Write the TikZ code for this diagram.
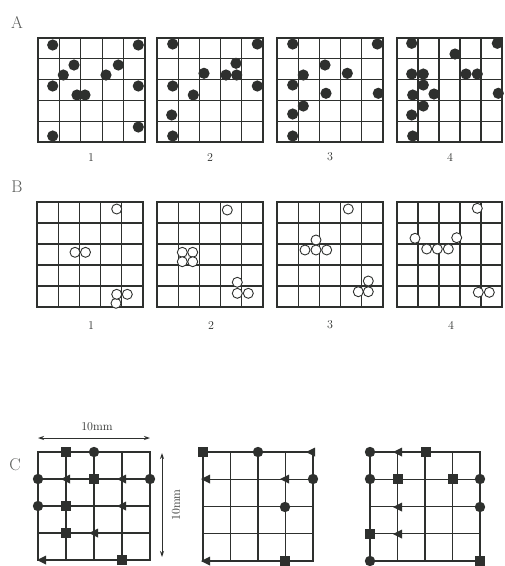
\documentclass[tikz,border=0pt]{standalone}
\usetikzlibrary{arrows.meta}
\definecolor{ink}{HTML}{2E302E}
\tikzset{
  gline/.style={draw=ink, line width=1.3pt},
  frame/.style={draw=ink, line width=1.8pt},
  dotA/.style={fill=ink},
  ringB/.style={draw=ink, line width=0.9pt, fill=white},
  mk/.style={fill=ink},
  lbl/.style={font=\fontsize{12}{12}\selectfont, text=ink, inner sep=0pt},
  sec/.style={font=\fontsize{17}{17}\selectfont, text=ink!80, inner sep=0pt},
  dim/.style={draw=ink, line width=0.9pt, {Stealth[length=6pt,width=4pt]}-{Stealth[length=6pt,width=4pt]}},
}
% grid: #1=x0 #2=y0 #3=w #4=h #5=number of cells
\newcommand{\mygrid}[5]{%
  \foreach \k in {1,...,\numexpr#5-1\relax}{%
    \draw[gline] ({#1+\k*#3/#5},#2) -- ({#1+\k*#3/#5},{#2+#4});
    \draw[gline] (#1,{#2+\k*#4/#5}) -- ({#1+#3},{#2+\k*#4/#5});
  }
  \draw[frame] (#1,#2) rectangle ({#1+#3},{#2+#4});
}
\newcommand{\dA}[2]{\fill[dotA] (#1,#2) circle (5.6);}
\newcommand{\rB}[2]{\draw[ringB] (#1,#2) circle (5);}
\newcommand{\mcirc}[2]{\fill[mk] (#1,#2) circle (5.2);}
\newcommand{\msq}[2]{\fill[mk] ({#1-4.6},{#2-4.6}) rectangle ({#1+4.6},{#2+4.6});}
\newcommand{\mtri}[2]{\fill[mk] ({#1-5},#2) -- ({#1+4},{#2-4.5}) -- ({#1+4},{#2+4.5}) -- cycle;}
\begin{document}
\begin{tikzpicture}[x=1pt,y=-1pt]
\useasboundingbox (0,0) rectangle (505,566);
\fill[white] (0,0) rectangle (505,566);

% ---------------- Section A ----------------
\node[sec] (secA) at (17,22) {A};
\mygrid{38}{38}{107}{104}{5}
\mygrid{157}{38}{106}{104}{5}
\mygrid{277}{38}{106}{104}{5}
\mygrid{397}{38}{105}{104}{5}
% A1
\dA{52.7}{45}\dA{138.3}{45}\dA{74}{65}\dA{63.3}{75}\dA{118.3}{65}\dA{106}{75}
\dA{52.7}{86}\dA{138.3}{86}\dA{77}{95}\dA{85}{95}\dA{138.3}{127}\dA{52.7}{136}
% A2
\dA{172.7}{44}\dA{257.3}{44}\dA{236}{63.3}\dA{204}{73.3}\dA{226}{75}\dA{236.7}{75}
\dA{172.7}{86}\dA{257.3}{86}\dA{193.3}{95}\dA{171.7}{115}\dA{172.7}{136}
% A3
\dA{292.7}{44}\dA{377.3}{44}\dA{325}{65}\dA{303.3}{75}\dA{347.3}{73.3}\dA{292.7}{85}
\dA{326}{93.3}\dA{378.3}{93.3}\dA{303.3}{106}\dA{292.7}{114}\dA{292.7}{136}
% A4
\dA{411.7}{43.3}\dA{497.3}{43.3}\dA{455}{54}\dA{411.7}{74}\dA{423.3}{74}\dA{466}{74}
\dA{477.3}{74}\dA{423.3}{85}\dA{412.7}{95}\dA{434}{94}\dA{498.3}{93.3}\dA{423.3}{106}
\dA{411.7}{115}\dA{412.7}{136}
\node[lbl] (a1) at (91,158) {1};
\node[lbl] (a2) at (210,158) {2};
\node[lbl] (a3) at (330,157) {3};
\node[lbl] (a4) at (450,157) {4};

% ---------------- Section B ----------------
\node[sec] (secB) at (17,187) {B};
\mygrid{37}{202}{106}{105}{5}
\mygrid{157}{202}{106}{105}{5}
\mygrid{277}{202}{106}{105}{5}
\mygrid{397}{202}{105}{105}{5}
% B1
\rB{116.7}{209}\rB{75}{252.3}\rB{85.5}{252.3}\rB{116}{303.3}\rB{116.7}{294.3}\rB{127.3}{294.3}
% B2
\rB{227.3}{210}\rB{182.3}{252.3}\rB{192.7}{252.3}\rB{182.3}{261.7}\rB{192.7}{261.7}
\rB{237.3}{282.3}\rB{237.3}{293.3}\rB{248.3}{293.3}
% B3
\rB{348.3}{209}\rB{316}{240}\rB{305}{250}\rB{316}{250}\rB{326.7}{250}
\rB{368.3}{281}\rB{358.3}{291.7}\rB{368.3}{291.7}
% B4
\rB{477.3}{208.3}\rB{415}{238.3}\rB{456.7}{237.7}\rB{426.7}{249}\rB{437.3}{249}\rB{448.3}{249}
\rB{478.3}{292.3}\rB{489.3}{292.3}
\node[lbl] (b1) at (91,326) {1};
\node[lbl] (b2) at (211,326) {2};
\node[lbl] (b3) at (330,325) {3};
\node[lbl] (b4) at (451,325) {4};

% ---------------- Section C ----------------
\node[sec] (secC) at (15,465) {C};
\coordinate (hl) at (38,438);
\coordinate (hr) at (150,438);
\draw[dim] (hl) -- (hr);
\node[lbl] (hmm) at (97,427) {10mm};
\coordinate (vt) at (162,453);
\coordinate (vb) at (162,557);
\draw[dim] (vt) -- (vb);
\node[lbl, rotate=90] (vmm) at (176,505) {10mm};

% C1: x 38..150, y 452..560
\mygrid{38}{452}{112}{108}{4}
\msq{66}{452}\mcirc{94}{452}
\mcirc{38}{479}\mtri{66}{479}\msq{94}{479}\mtri{122}{479}\mcirc{150}{479}
\mcirc{38}{506}\msq{66}{506}\mtri{122}{506}
\msq{66}{533}\mtri{94}{533}
\mtri{42}{560}\msq{122}{560}

% C2: x 203..313, y 452..561
\mygrid{203}{452}{110}{109}{4}
\msq{203}{452}\mcirc{258}{452}\mtri{311}{452}
\mtri{206}{479}\mtri{285}{479}\mcirc{313}{479}
\mcirc{285}{507}
\mtri{206}{561}\msq{285}{561}

% C3: x 370..480, y 452..561
\mygrid{370}{452}{110}{109}{4}
\mcirc{370}{452}\mtri{398}{452}\msq{426}{452}
\mcirc{370}{479}\msq{398}{479}\msq{453}{479}\mcirc{480}{479}
\mtri{398}{507}\mcirc{480}{507}
\msq{370}{534}\mtri{398}{534}
\mcirc{370}{561}\msq{480}{561}
\end{tikzpicture}
\end{document}
